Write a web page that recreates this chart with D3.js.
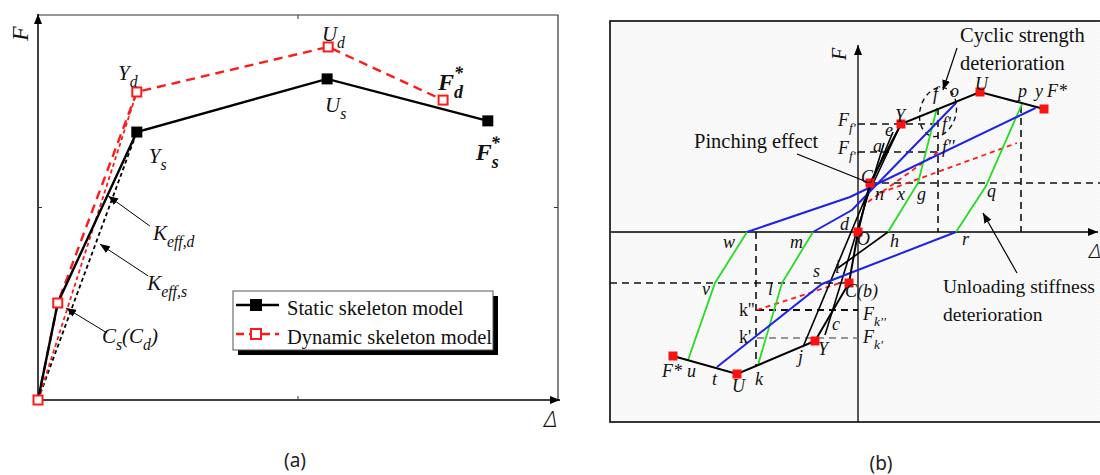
<!DOCTYPE html>
<html>
<head>
<meta charset="utf-8">
<script src="https://cdn.jsdelivr.net/npm/d3@7"></script>
<style>
  body { margin: 0; background: #fff; }
  svg { display: block; }
</style>
</head>
<body>
<svg id="chart" width="1100" height="475"></svg>
<script>
const SERIF = "'Liberation Serif', 'Times New Roman', serif";
const SANS = "'Noto Sans', 'Open Sans', sans-serif";

// ---------- panel (a): skeleton curves, [Δ, F] in arbitrary units ----------
const staticSkeleton = [[0, 0], [0.38, 2.52], [1.90, 6.96], [5.56, 8.34], [8.65, 7.25]];
const dynamicSkeleton = [[0, 0], [0.38, 2.52], [1.90, 8.00], [5.58, 9.17], [7.79, 7.79]];
const secantStatic = [[0, 0], [1.90, 6.96]];
const secantDynamic = [[0, 0], [1.90, 8.00]];

const labelsA = [
  { x: 1.54, y: 8.31, parts: [["Y"], ["d", "sub"]] },
  { x: 2.13, y: 6.16, parts: [["Y"], ["s", "sub"]] },
  { x: 5.46, y: 9.32, parts: [["U"], ["d", "sub"]] },
  { x: 5.52, y: 7.48, parts: [["U"], ["s", "sub"]] },
  { x: 7.69, y: 8.05, parts: [["F"], ["d", "sub"], ["*", "sup", -9]], bold: true },
  { x: 8.42, y: 6.23, parts: [["F"], ["s", "sub"], ["*", "sup", -8]], bold: true },
  { x: 2.21, y: 4.16, parts: [["K"], ["eff,d", "sub"]] },
  { x: 2.10, y: 2.86, parts: [["K"], ["eff,s", "sub"]] },
  { x: 1.23, y: 1.48, parts: [["C"], ["s", "sub"], ["(C"], ["d", "sub"], [")"]] }
];
const pointersA = [
  [[2.15, 4.52], [1.35, 5.30]],
  [[2.12, 3.22], [1.19, 4.05]],
  [[1.33, 1.74], [0.54, 2.39]]
];
const legendItems = [
  { name: "Static skeleton model", color: "#000", dash: null, filled: true },
  { name: "Dynamic skeleton model", color: "#ff1a1a", dash: "8,5", filled: false }
];

// ---------- panel (b): hysteresis rules, [Δ, F] in arbitrary units ----------
const skeletonPos = [[0, 0], [0.48, 1.96], [1.72, 4.32], [4.88, 5.60], [7.44, 4.92]];
const skeletonNeg = [[0, 0], [-0.36, -2.04], [-1.72, -4.36], [-4.84, -5.68], [-7.40, -4.96]];
const reloadBlack = [
  [[1.40, 4.00], [-2.20, -4.60]],
  [[1.04, 3.56], [-1.32, -4.12]],
  [[1.72, 4.32], [0.20, 1.08]],
  [[-0.80, -1.44], [1.20, 0]]
];
const blueLines = [
  [[-4.44, 0], [-0.32, 1.40], [7.10, 4.96]],
  [[-1.80, 0], [-0.24, 0.88], [3.92, 5.16]],
  [[3.92, 0], [0, -1.52], [-1.44, -2.08], [-5.64, -5.40]]
];
const greenLines = [
  [[-4.44, 0], [-5.72, -2.04], [-6.80, -5.12]],
  [[-1.80, 0], [-3.04, -2.04], [-4.00, -5.32]],
  [[1.20, 0], [2.40, 1.96], [3.16, 4.96]],
  [[3.92, 0], [5.12, 1.84], [6.56, 5.12]]
];
const redDashes = [
  [[0.88, 1.56], [6.36, 3.56]],
  [[0.40, 1.20], [3.20, 3.20]],
  [[-4.04, -3.12], [-0.60, -2.00]]
];
const dashedGuides = [
  { pts: [[0, 4.32], [3.20, 4.32]], color: "#111" },
  { pts: [[0, 3.20], [3.28, 3.20]], color: "#111" },
  { pts: [[3.20, 4.96], [3.20, 0]], color: "#111" },
  { pts: [[0.48, 1.96], [10, 1.96]], color: "#111" },
  { pts: [[6.52, 5.04], [6.52, 0]], color: "#111" },
  { pts: [[-9.92, -2.04], [-0.36, -2.04]], color: "#111" },
  { pts: [[-4.08, 0], [-4.08, -5.40]], color: "#111" },
  { pts: [[-4.04, -3.12], [0, -3.12]], color: "#111", width: 2.2 },
  { pts: [[-4.04, -4.24], [0, -4.24]], color: "#777" }
];
const labelsB = [
  { x: -0.80, y: 4.24, parts: [["F"], ["f'", "sub"]] },
  { x: -0.80, y: 3.12, parts: [["F"], ["f''", "sub"]] },
  { x: 1.48, y: 4.40, parts: [["Y"]] },
  { x: 1.08, y: 3.84, parts: [["e"]] },
  { x: 0.60, y: 3.20, parts: [["a"]] },
  { x: 0.12, y: 1.96, parts: [["C"]] },
  { x: 0.68, y: 1.28, parts: [["n"]] },
  { x: 1.56, y: 1.28, parts: [["x"]] },
  { x: 2.36, y: 1.28, parts: [["g"]] },
  { x: 3.00, y: 5.28, parts: [["f"]] },
  { x: 3.68, y: 5.40, parts: [["o"]] },
  { x: 3.36, y: 4.08, parts: [["f'"]] },
  { x: 3.36, y: 3.16, parts: [["f''"]] },
  { x: 4.68, y: 5.68, parts: [["U"]] },
  { x: 6.40, y: 5.40, parts: [["p"]] },
  { x: 7.08, y: 5.40, parts: [["y"]] },
  { x: 7.56, y: 5.40, parts: [["F*"]] },
  { x: 5.16, y: 1.40, parts: [["q"]] },
  { x: -0.72, y: 0.08, parts: [["d"]] },
  { x: -0.04, y: -0.52, parts: [["O"]] },
  { x: 1.28, y: -0.60, parts: [["h"]] },
  { x: 4.16, y: -0.52, parts: [["r"]] },
  { x: -5.40, y: -0.64, parts: [["w"]] },
  { x: -2.72, y: -0.64, parts: [["m"]] },
  { x: -1.80, y: -1.80, parts: [["s"]] },
  { x: -0.92, y: -1.64, parts: [["i"]] },
  { x: -0.52, y: -2.60, parts: [["C(b)"]] },
  { x: -6.24, y: -2.52, parts: [["v"]] },
  { x: -3.60, y: -2.52, parts: [["l"]] },
  { x: -4.76, y: -3.36, parts: [["k''"]], upright: true },
  { x: -4.76, y: -4.44, parts: [["k'"]], upright: true },
  { x: 0.20, y: -3.52, parts: [["F"], ["k''", "sub"]] },
  { x: 0.20, y: -4.44, parts: [["F"], ["k'", "sub"]] },
  { x: -1.04, y: -3.92, parts: [["c"]] },
  { x: -1.60, y: -4.92, parts: [["Y"]] },
  { x: -2.40, y: -5.24, parts: [["j"]] },
  { x: -7.84, y: -5.80, parts: [["F*"]] },
  { x: -6.84, y: -5.80, parts: [["u"]] },
  { x: -5.84, y: -6.12, parts: [["t"]] },
  { x: -5.04, y: -6.40, parts: [["U"]] },
  { x: -4.12, y: -6.12, parts: [["k"]] }
];
const notesB = [
  { lines: ["Pinching effect"], x: -6.56, y: 3.36, from: [-2.44, 3.12], to: [0.36, 2.00], arrow: false, size: 20.5 },
  { lines: ["Cyclic strength", "deterioration"], x: 4.08, y: 7.60, from: [3.96, 7.36], to: [3.40, 5.68], arrow: true, size: 20.5 },
  { lines: ["Unloading stiffness", "deterioration"], x: 3.40, y: -2.44, from: [6.36, -1.64], to: [5.00, 0.76], arrow: true, size: 19.5 }
];

const svg = d3.select("#chart");
const defs = svg.append("defs");
defs.append("marker").attr("id", "arrow")
  .attr("viewBox", "0 0 10 8").attr("refX", 10).attr("refY", 4)
  .attr("markerWidth", 10).attr("markerHeight", 8)
  .attr("markerUnits", "userSpaceOnUse").attr("orient", "auto")
  .append("path").attr("d", "M0,0 L10,4 L0,8 Z").attr("fill", "#000");
const pat = defs.append("pattern").attr("id", "paper")
  .attr("width", 4).attr("height", 4).attr("patternUnits", "userSpaceOnUse");
pat.append("rect").attr("width", 4).attr("height", 4).attr("fill", "#fafafa");
pat.append("rect").attr("x", 1).attr("y", 1).attr("width", 1).attr("height", 1).attr("fill", "#ececec");
pat.append("rect").attr("x", 3).attr("y", 3).attr("width", 1).attr("height", 1).attr("fill", "#f1f1f1");

function richText(g, x, y, parts, size, opts = {}) {
  const t = g.append("text").attr("x", x).attr("y", y)
    .attr("font-family", SERIF).attr("font-size", size)
    .attr("font-style", opts.upright ? "normal" : "italic")
    .attr("font-weight", opts.bold ? "bold" : "normal")
    .attr("fill", "#111");
  let cur = 0;
  parts.forEach(([txt, kind, dx]) => {
    const off = kind === "sub" ? size * 0.32 : kind === "sup" ? -size * 0.45 : 0;
    const ts = t.append("tspan").attr("dy", off - cur).text(txt);
    if (dx) ts.attr("dx", dx);
    if (kind) ts.attr("font-size", size * 0.75);
    cur = off;
  });
  return t;
}

// ================= panel (a) =================
const xA = d3.scaleLinear().domain([0, 10]).range([38, 558]);
const yA = d3.scaleLinear().domain([0, 10]).range([400, 15]);
const lineA = d3.line().x(d => xA(d[0])).y(d => yA(d[1]));
const gA = svg.append("g");

// frame and axes
gA.append("path").attr("d", `M${xA(0)},${yA(10)} H${xA(10)} V${yA(0)}`)
  .attr("fill", "none").attr("stroke", "#333").attr("stroke-width", 1.2);
gA.append("line").attr("x1", xA(0)).attr("y1", yA(0)).attr("x2", xA(0)).attr("y2", yA(10) - 1)
  .attr("stroke", "#000").attr("stroke-width", 1.5).attr("marker-end", "url(#arrow)");
gA.append("line").attr("x1", xA(0)).attr("y1", yA(0)).attr("x2", xA(10) + 2).attr("y2", yA(0))
  .attr("stroke", "#000").attr("stroke-width", 1.5).attr("marker-end", "url(#arrow)");
[[xA(5), yA(0), 0, -4], [xA(5), yA(10), 0, 4], [xA(0), yA(5), 4, 0], [xA(10), yA(5), -4, 0]].forEach(t => {
  gA.append("line").attr("x1", t[0]).attr("y1", t[1]).attr("x2", t[0] + t[2]).attr("y2", t[1] + t[3])
    .attr("stroke", "#333").attr("stroke-width", 1);
});
richText(gA, 0, 0, [["F"]], 24).attr("transform", `translate(${xA(0) - 10},${yA(10) + 26}) rotate(-90)`);
richText(gA, xA(10) - 14, yA(0) + 27, [["Δ"]], 22).attr("font-family", SANS).attr("font-weight", 300);

// secants, then skeletons
gA.append("path").attr("d", lineA(secantStatic)).attr("fill", "none")
  .attr("stroke", "#000").attr("stroke-width", 1.8).attr("stroke-dasharray", "4,3");
gA.append("path").attr("d", lineA(secantDynamic)).attr("fill", "none")
  .attr("stroke", "#ff1a1a").attr("stroke-width", 1.8).attr("stroke-dasharray", "4,3");
gA.append("path").attr("d", lineA(dynamicSkeleton)).attr("fill", "none")
  .attr("stroke", "#ff1a1a").attr("stroke-width", 2.4).attr("stroke-dasharray", "9,6");
gA.append("path").attr("d", lineA(staticSkeleton)).attr("fill", "none")
  .attr("stroke", "#000").attr("stroke-width", 2.4);

gA.selectAll(".sq-s").data(staticSkeleton.slice(2)).join("rect")
  .attr("x", d => xA(d[0]) - 5.5).attr("y", d => yA(d[1]) - 5.5)
  .attr("width", 11).attr("height", 11).attr("fill", "#000");
gA.selectAll(".sq-d").data(dynamicSkeleton).join("rect")
  .attr("x", d => xA(d[0]) - 4.5).attr("y", d => yA(d[1]) - 4.5)
  .attr("width", 9).attr("height", 9).attr("fill", "#fff")
  .attr("stroke", "#ff1a1a").attr("stroke-width", 2);

pointersA.forEach(p => {
  gA.append("line").attr("x1", xA(p[0][0])).attr("y1", yA(p[0][1]))
    .attr("x2", xA(p[1][0])).attr("y2", yA(p[1][1]))
    .attr("stroke", "#000").attr("stroke-width", 1).attr("marker-end", "url(#arrow)");
});
labelsA.forEach(l => richText(gA, xA(l.x), yA(l.y), l.parts, l.bold ? 24 : 21, { bold: l.bold }));

// legend
const lg = gA.append("g").attr("transform", "translate(233,291)");
lg.append("rect").attr("x", 5).attr("y", 5).attr("width", 260).attr("height", 59).attr("fill", "#000");
lg.append("rect").attr("width", 260).attr("height", 59).attr("fill", "#fff")
  .attr("stroke", "#555").attr("stroke-width", 1);
legendItems.forEach((it, i) => {
  const yy = 14 + i * 29;
  lg.append("line").attr("x1", 3).attr("x2", 46).attr("y1", yy).attr("y2", yy)
    .attr("stroke", it.color).attr("stroke-width", 2.4).attr("stroke-dasharray", it.dash);
  lg.append("rect").attr("x", 23 - 5).attr("y", yy - 5).attr("width", 10).attr("height", 10)
    .attr("fill", it.filled ? it.color : "#fff").attr("stroke", it.color).attr("stroke-width", 2);
  lg.append("text").attr("x", 54).attr("y", yy + 10).attr("font-family", SERIF)
    .attr("font-size", 20.5).attr("fill", "#111").text(it.name);
});

svg.append("text").attr("x", 295).attr("y", 467).attr("text-anchor", "middle")
  .attr("font-family", SANS).attr("font-size", 19).attr("fill", "#222").text("(a)");

// ================= panel (b) =================
const xB = d3.scaleLinear().domain([-10, 10]).range([608, 1108]);
const yB = d3.scaleLinear().domain([-8, 8]).range([432, 32]);
const lineB = d3.line().x(d => xB(d[0])).y(d => yB(d[1]));
const gB = svg.append("g");

gB.append("rect").attr("x", 610).attr("y", 21).attr("width", 520).attr("height", 401)
  .attr("fill", "url(#paper)").attr("stroke", "#222").attr("stroke-width", 1.8);

gB.append("line").attr("x1", xB(0)).attr("y1", 422).attr("x2", xB(0)).attr("y2", 45)
  .attr("stroke", "#000").attr("stroke-width", 1.3).attr("marker-end", "url(#arrow)");
gB.append("line").attr("x1", 611).attr("y1", yB(0)).attr("x2", 1098).attr("y2", yB(0))
  .attr("stroke", "#000").attr("stroke-width", 1.3).attr("marker-end", "url(#arrow)");
richText(gB, 0, 0, [["F"]], 20).attr("transform", `translate(${xB(0) - 12},${60}) rotate(-90)`);
richText(gB, 1089, 258, [["Δ"]], 20).attr("font-family", SANS).attr("font-weight", 300);

dashedGuides.forEach(d => {
  gB.append("path").attr("d", lineB(d.pts)).attr("fill", "none")
    .attr("stroke", d.color).attr("stroke-width", d.width || 1.6).attr("stroke-dasharray", "7,5");
});
gB.append("ellipse").attr("cx", xB(3.2)).attr("cy", yB(4.8))
  .attr("rx", xB(0.72) - xB(0)).attr("ry", yB(0) - yB(1.0))
  .attr("transform", `rotate(15,${xB(3.2)},${yB(4.8)})`)
  .attr("fill", "none").attr("stroke", "#111").attr("stroke-width", 1.4).attr("stroke-dasharray", "5,4");

redDashes.forEach(p => {
  gB.append("path").attr("d", lineB(p)).attr("fill", "none")
    .attr("stroke", "#ff1a1a").attr("stroke-width", 1.8).attr("stroke-dasharray", "5,4");
});
greenLines.forEach(p => {
  gB.append("path").attr("d", lineB(p)).attr("fill", "none")
    .attr("stroke", "#22dd22").attr("stroke-width", 1.8);
});
reloadBlack.forEach(p => {
  gB.append("path").attr("d", lineB(p)).attr("fill", "none")
    .attr("stroke", "#000").attr("stroke-width", 1.6);
});
blueLines.forEach(p => {
  gB.append("path").attr("d", lineB(p)).attr("fill", "none")
    .attr("stroke", "#1f22e6").attr("stroke-width", 2);
});
[skeletonPos, skeletonNeg].forEach(p => {
  gB.append("path").attr("d", lineB(p)).attr("fill", "none")
    .attr("stroke", "#000").attr("stroke-width", 2);
});
gB.selectAll(".key").data(skeletonPos.concat(skeletonNeg.slice(1))).join("rect")
  .attr("x", d => xB(d[0]) - 4.5).attr("y", d => yB(d[1]) - 4.5)
  .attr("width", 9).attr("height", 9).attr("fill", "#ff1010");

labelsB.forEach(l => richText(gB, xB(l.x), yB(l.y), l.parts, 18, { upright: l.upright }));

notesB.forEach(n => {
  gB.append("line").attr("x1", xB(n.from[0])).attr("y1", yB(n.from[1]))
    .attr("x2", xB(n.to[0])).attr("y2", yB(n.to[1]))
    .attr("stroke", "#000").attr("stroke-width", 1.2)
    .attr("marker-end", n.arrow ? "url(#arrow)" : null);
  n.lines.forEach((s, i) => {
    gB.append("text").attr("x", xB(n.x)).attr("y", yB(n.y) + i * 28)
      .attr("font-family", SERIF).attr("font-size", n.size).attr("fill", "#111").text(s);
  });
});

svg.append("text").attr("x", 881).attr("y", 470).attr("text-anchor", "middle")
  .attr("font-family", SANS).attr("font-size", 19).attr("fill", "#222").text("(b)");
</script>
</body>
</html>
